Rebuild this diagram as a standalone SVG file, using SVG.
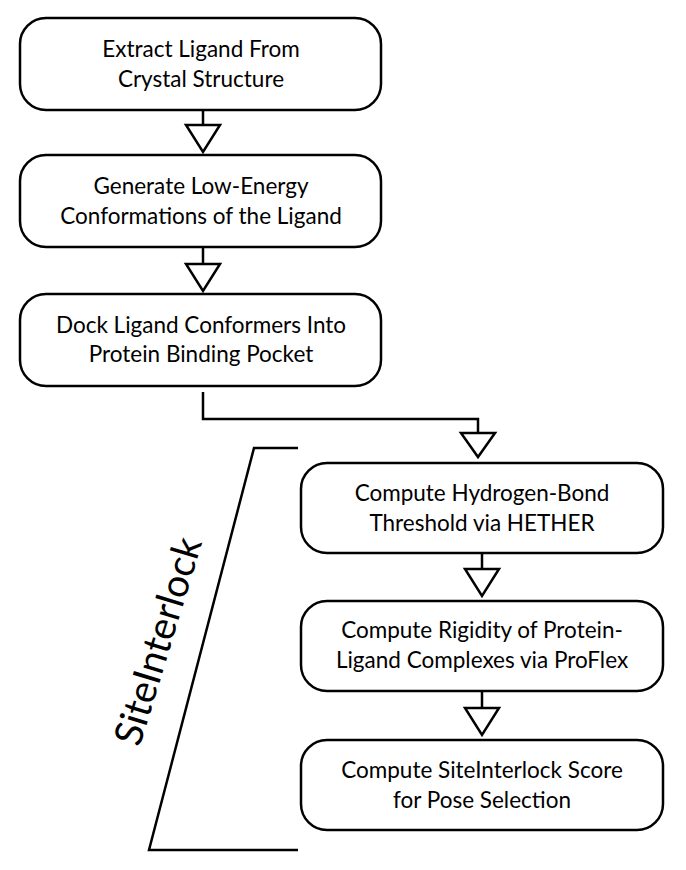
<svg xmlns="http://www.w3.org/2000/svg" width="686" height="870" viewBox="0 0 686 870">
<style>
.box{fill:#fff;stroke:#000;stroke-width:2.5}
.t{font-family:Lato,"Noto Sans",sans-serif;font-size:22.5px;text-anchor:middle;fill:#000}
.c{fill:none;stroke:#000;stroke-width:2.5}
.ah{fill:#fff;stroke:#000;stroke-width:2.5;stroke-linejoin:miter}
</style>
<rect width="686" height="870" fill="#fff"/>
<g id="connectors">
<path class="c" d="M203 110V125"/><path class="ah" d="M186 125H220L203 152Z"/>
<path class="c" d="M203 247V264"/><path class="ah" d="M186 264H220L203 291Z"/>
<path class="c" d="M203 392V419H478V433"/><path class="ah" d="M461 433H495L478 457Z"/>
<path class="c" d="M482 553V569"/><path class="ah" d="M465 569H499L482 596Z"/>
<path class="c" d="M482 691V708"/><path class="ah" d="M465 708H499L482 735Z"/>
</g>
<g id="bracket">
<path class="c" d="M298 448H254L149 850H298"/>
<text font-family="Lato,'Noto Sans',sans-serif" font-size="39" text-anchor="middle" transform="translate(171,645) rotate(-73)">SiteInterlock</text>
</g>
<g id="n1"><rect class="box" x="20" y="18" width="361" height="92" rx="26"/><text class="t" x="201" y="57">Extract Ligand From</text><text class="t" x="201" y="87">Crystal Structure</text></g>
<g id="n2"><rect class="box" x="20" y="155" width="361" height="92" rx="26"/><text class="t" x="201" y="194">Generate Low-Energy</text><text class="t" x="201" y="224">Conformations of the Ligand</text></g>
<g id="n3"><rect class="box" x="20" y="294" width="361" height="92" rx="26"/><text class="t" x="201" y="333">Dock Ligand Conformers Into</text><text class="t" x="201" y="362">Protein Binding Pocket</text></g>
<g id="n4"><rect class="box" x="301" y="463" width="362" height="90" rx="26"/><text class="t" x="482" y="501">Compute Hydrogen-Bond</text><text class="t" x="482" y="531">Threshold via HETHER</text></g>
<g id="n5"><rect class="box" x="301" y="601" width="362" height="90" rx="26"/><text class="t" x="482" y="638">Compute Rigidity of Protein-</text><text class="t" x="482" y="668">Ligand Complexes via ProFlex</text></g>
<g id="n6"><rect class="box" x="301" y="740" width="362" height="90" rx="26"/><text class="t" x="482" y="778">Compute SiteInterlock Score</text><text class="t" x="482" y="808">for Pose Selection</text></g>
</svg>
